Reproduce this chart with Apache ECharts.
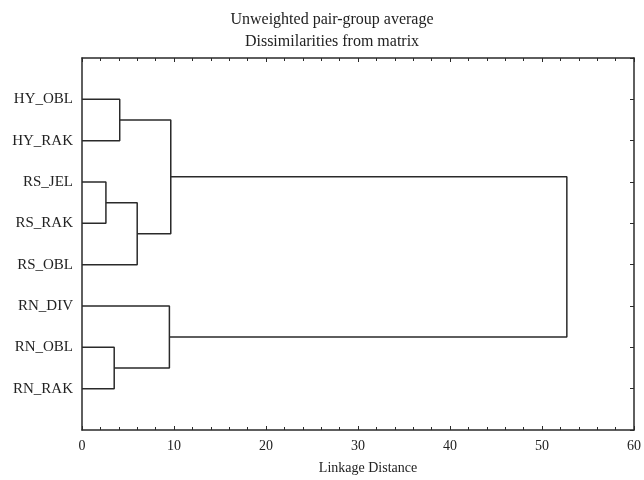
<!DOCTYPE html>
<html>
<head>
<meta charset="utf-8">
<script src="https://cdn.jsdelivr.net/npm/echarts@6/dist/echarts.min.js"></script>
<style>html,body{margin:0;padding:0;background:#fff}#c{width:644px;height:480px}</style>
</head>
<body>
<div id="c"></div>
<script>
// Leaves, top to bottom
var leaves = ['HY_OBL', 'HY_RAK', 'RS_JEL', 'RS_RAK', 'RS_OBL', 'RN_DIV', 'RN_OBL', 'RN_RAK'];
// Merges: [childA, childB, linkage distance]; leaf ids 0..7, new clusters get ids 8, 9, ...
var mergeA = [2, 6, 0, 8, 5, 10, 13];
var mergeB = [3, 7, 1, 4, 9, 11, 12];
var mergeHeight = [2.6, 3.5, 4.1, 6.0, 9.5, 9.65, 52.7];
var xTicks = [0, 10, 20, 30, 40, 50, 60];

var FONT = '"Liberation Serif", "Times New Roman", serif';
var LINE = '#2a2a2a';

// node positions: y = leaf slot (1..8), x = height
var nodeY = [], nodeX = [];
leaves.forEach(function (n, i) { nodeY.push(i + 1); nodeX.push(0); });
var series = [];
for (var k = 0; k < mergeA.length; k++) {
  var a = mergeA[k], b = mergeB[k], h = mergeHeight[k];
  series.push({
    type: 'line', symbol: 'none', animation: false, silent: true,
    lineStyle: { color: LINE, width: 1.5 },
    data: [[nodeX[a], nodeY[a]], [h, nodeY[a]], [h, nodeY[b]], [nodeX[b], nodeY[b]]]
  });
  nodeY.push((nodeY[a] + nodeY[b]) / 2);
  nodeX.push(h);
}

var chart = echarts.init(document.getElementById('c'), null, { renderer: 'canvas' });
chart.setOption({
  backgroundColor: '#fff',
  animation: false,
  title: {
    text: 'Unweighted pair-group average\nDissimilarities from matrix',
    left: 327, textAlign: 'center', top: 4,
    textStyle: { fontFamily: FONT, fontSize: 16, fontWeight: 'normal', lineHeight: 22, color: '#222' }
  },
  grid: { left: 82, right: 9, top: 58, bottom: 49, containLabel: false },
  xAxis: [{
    type: 'value', position: 'bottom', min: xTicks[0], max: xTicks[xTicks.length - 1], interval: 10,
    name: 'Linkage Distance', nameLocation: 'middle', nameGap: 31,
    nameTextStyle: { fontFamily: FONT, fontSize: 14, color: '#222', padding: [0, 0, 0, 20] },
    axisLine: { show: true, onZero: false, lineStyle: { color: LINE, width: 1.5 } },
    axisTick: { show: true, inside: true, length: 4, lineStyle: { color: LINE } },
    minorTick: { show: true, splitNumber: 5, length: 3, lineStyle: { color: LINE } },
    axisLabel: { margin: 9, fontFamily: FONT, fontSize: 14, color: '#222' },
    splitLine: { show: false }
  }, {
    type: 'value', position: 'top', min: xTicks[0], max: xTicks[xTicks.length - 1], interval: 10,
    axisLine: { show: true, onZero: false, lineStyle: { color: LINE, width: 1.5 } },
    axisTick: { show: true, inside: true, length: 4, lineStyle: { color: LINE } },
    minorTick: { show: true, splitNumber: 5, length: 3, lineStyle: { color: LINE } },
    axisLabel: { show: false },
    splitLine: { show: false }
  }],
  yAxis: [{
    type: 'value', position: 'left', inverse: true, min: 0, max: leaves.length + 1, interval: 1,
    axisLine: { show: true, onZero: false, lineStyle: { color: LINE, width: 1.5 } },
    axisTick: { show: false },
    axisLabel: {
      margin: 9, fontFamily: FONT, fontSize: 15, color: '#222',
      formatter: function (v) { return (v >= 1 && v <= leaves.length) ? leaves[v - 1] : ''; }
    },
    splitLine: { show: false }
  }, {
    type: 'value', position: 'right', inverse: true, min: 0, max: leaves.length + 1, interval: 1,
    axisLine: { show: true, onZero: false, lineStyle: { color: LINE, width: 1.5 } },
    axisTick: { show: true, inside: true, length: 4, lineStyle: { color: LINE } },
    axisLabel: { show: false },
    splitLine: { show: false }
  }],
  series: series
});
</script>
</body>
</html>
